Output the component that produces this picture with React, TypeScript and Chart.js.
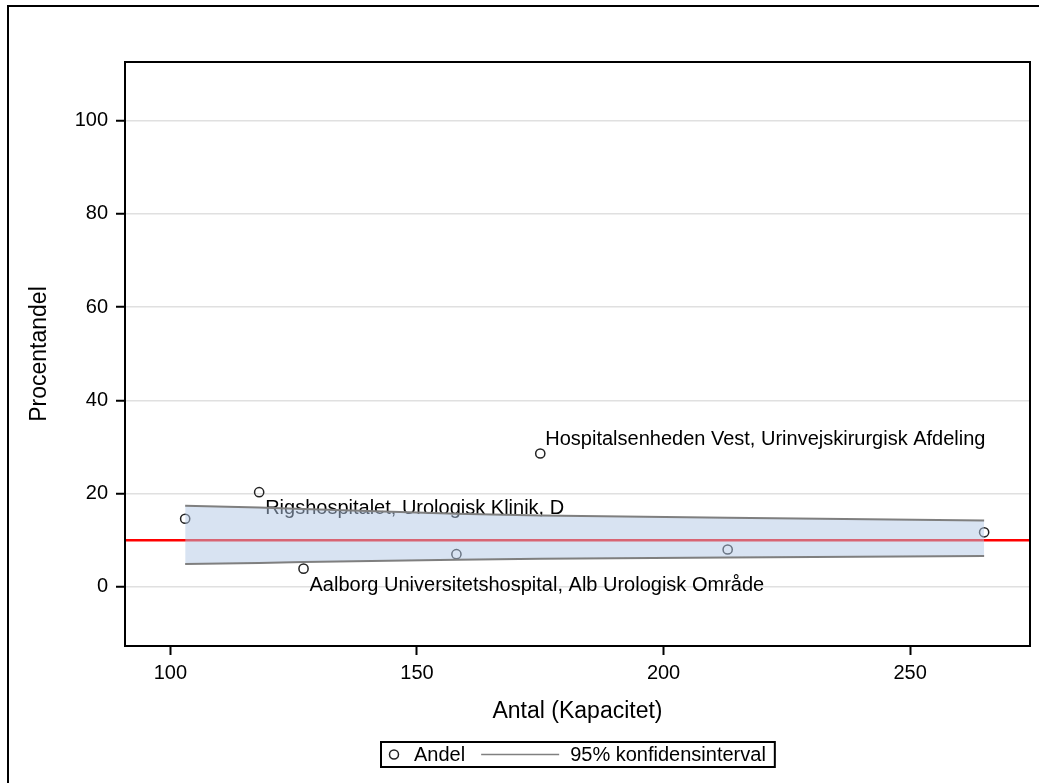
import { useEffect, useRef } from 'react';
import { Chart, registerables } from 'chart.js';

Chart.register(...registerables);

// ---------- data ----------
const xAxisMin = 90.8;
const xAxisMax = 274.3;
const yAxisMin = -12.7;
const yAxisMax = 112.6;
const xTickValues = [100, 150, 200, 250];
const yTickValues = [0, 20, 40, 60, 80, 100];

const antal = [103, 118, 127, 158, 175, 213, 265];
const andel = [14.6, 20.3, 3.9, 7.0, 28.6, 8.0, 11.7];
const hospitalNames = [
  '',
  'Rigshospitalet, Urologisk Klinik, D',
  'Aalborg Universitetshospital, Alb Urologisk Område',
  '',
  'Hospitalsenheden Vest, Urinvejskirurgisk Afdeling',
  '',
  '',
];

const ciAntal = [103, 118, 127, 158, 175, 213, 265];
const ciUpper = [17.4, 17.0, 16.7, 15.7, 15.3, 14.8, 14.2];
const ciLower = [4.9, 5.1, 5.3, 5.8, 6.0, 6.3, 6.6];

const targetValue = 10;

const xTitle = 'Antal (Kapacitet)';
const yTitle = 'Procentandel';
const legendLabels = ['Andel', '95% konfidensinterval'];

// ---------- styling ----------
const FONT = "'Liberation Sans', Arial, sans-serif";
const W = 1039;
const H = 783;

const decorPlugin = {
  id: 'decor',
  beforeDatasetsDraw(chart: any) {
    const { ctx, scales } = chart;
    const xs = scales.x;
    const ys = scales.y;
    ctx.save();
    ctx.font = `20px ${FONT}`;
    ctx.fillStyle = '#000';
    ctx.textAlign = 'left';
    ctx.textBaseline = 'alphabetic';
    for (let i = 0; i < antal.length; i++) {
      const name = hospitalNames[i];
      if (!name) continue;
      const px = xs.getPixelForValue(antal[i]);
      const py = ys.getPixelForValue(andel[i]);
      // label above-right for points far above the band, below-right otherwise
      if (andel[i] > ciUpper[i] + 8) {
        ctx.fillText(name, px + 5, py - 9);
      } else {
        ctx.fillText(name, px + 6, py + 22);
      }
    }
    ctx.restore();
  },
  afterDraw(chart: any) {
    const { ctx, chartArea: a } = chart;
    ctx.save();
    // plot frame
    ctx.strokeStyle = '#000';
    ctx.lineWidth = 2;
    ctx.strokeRect(a.left, a.top, a.right - a.left, a.bottom - a.top);
    // outer frame
    ctx.beginPath();
    ctx.moveTo(8, H);
    ctx.lineTo(8, 6);
    ctx.lineTo(W, 6);
    ctx.stroke();

    // legend
    ctx.font = `20px ${FONT}`;
    const w1 = ctx.measureText(legendLabels[0]).width;
    const w2 = ctx.measureText(legendLabels[1]).width;
    const total = 33 + w1 + 16 + 78 + 11 + w2 + 9;
    const cx = (a.left + a.right) / 2;
    const bx = Math.round(cx - total / 2);
    const by = 742;
    const bh = 25;
    const cy = by + bh / 2;
    ctx.lineWidth = 2;
    ctx.strokeStyle = '#000';
    ctx.strokeRect(bx, by, total, bh);
    // marker
    ctx.lineWidth = 1.5;
    ctx.strokeStyle = '#222';
    ctx.beginPath();
    ctx.arc(bx + 13, cy, 4.5, 0, Math.PI * 2);
    ctx.stroke();
    ctx.fillStyle = '#000';
    ctx.textBaseline = 'middle';
    ctx.textAlign = 'left';
    ctx.fillText(legendLabels[0], bx + 33, cy + 1);
    // line
    const lx = bx + 33 + w1 + 16;
    ctx.strokeStyle = '#808080';
    ctx.lineWidth = 1.5;
    ctx.beginPath();
    ctx.moveTo(lx, cy);
    ctx.lineTo(lx + 78, cy);
    ctx.stroke();
    ctx.fillText(legendLabels[1], lx + 78 + 11, cy + 1);
    ctx.restore();
  },
};

export default function App() {
  const ref = useRef<HTMLCanvasElement | null>(null);

  useEffect(() => {
    if (!ref.current) return;
    Chart.defaults.font.family = FONT;
    const chart = new Chart(ref.current, {
      type: 'scatter',
      data: {
        datasets: [
          {
            label: legendLabels[0],
            data: antal.map((x, i) => ({ x, y: andel[i] })),
            pointStyle: 'circle',
            pointRadius: 4.6,
            pointBorderWidth: 1.5,
            pointBorderColor: '#222',
            pointBackgroundColor: 'rgba(0,0,0,0)',
            order: 3,
          },
          {
            label: 'target',
            data: [
              { x: xAxisMin, y: targetValue },
              { x: xAxisMax, y: targetValue },
            ],
            showLine: true,
            borderColor: '#ff0000',
            borderWidth: 2.5,
            pointRadius: 0,
            order: 2,
          },
          {
            label: legendLabels[1],
            data: ciAntal.map((x, i) => ({ x, y: ciUpper[i] })),
            showLine: true,
            borderColor: '#7f7f7f',
            borderWidth: 2,
            pointRadius: 0,
            fill: '+1',
            backgroundColor: 'rgba(178,200,230,0.5)',
            order: 1,
          },
          {
            label: 'lower',
            data: ciAntal.map((x, i) => ({ x, y: ciLower[i] })),
            showLine: true,
            borderColor: '#7f7f7f',
            borderWidth: 2,
            pointRadius: 0,
            fill: false,
            order: 0,
          },
        ],
      },
      options: {
        responsive: false,
        animation: false,
        devicePixelRatio: 1,
        layout: { padding: { left: 0, top: 62, right: 9, bottom: 0 } },
        plugins: {
          legend: { display: false },
          tooltip: { enabled: false },
        },
        scales: {
          x: {
            type: 'linear',
            min: xAxisMin,
            max: xAxisMax,
            afterBuildTicks: (s: any) => {
              s.ticks = xTickValues.map((v) => ({ value: v }));
            },
            afterFit: (s: any) => {
              s.height = 137;
            },
            ticks: {
              includeBounds: false,
              color: '#000',
              font: { size: 20, family: FONT },
              padding: 6,
              maxRotation: 0,
              callback: (v: any) => String(v),
            },
            grid: {
              drawOnChartArea: false,
              tickLength: 9,
              tickColor: '#000',
              tickWidth: 2,
            },
            border: { display: true, color: '#000', width: 2 },
            title: {
              display: true,
              text: xTitle,
              color: '#000',
              font: { size: 23, family: FONT },
              padding: { top: 0, bottom: 58 },
            },
          },
          y: {
            type: 'linear',
            min: yAxisMin,
            max: yAxisMax,
            afterBuildTicks: (s: any) => {
              s.ticks = yTickValues.map((v) => ({ value: v }));
            },
            afterFit: (s: any) => {
              s.width = 125;
            },
            ticks: {
              includeBounds: false,
              color: '#000',
              font: { size: 20, family: FONT },
              padding: 8,
              callback: (v: any) => String(v),
            },
            grid: {
              color: '#e0e0e0',
              lineWidth: 1.5,
              tickLength: 9,
              tickColor: '#000',
              tickWidth: 2,
            },
            border: { display: true, color: '#000', width: 2 },
            title: {
              display: true,
              text: yTitle,
              color: '#000',
              font: { size: 23, family: FONT },
              padding: { top: 26, bottom: 0 },
            },
          },
        },
      },
      plugins: [decorPlugin],
    } as any);
    return () => chart.destroy();
  }, []);

  return (
    <div style={{ position: 'fixed', left: 0, top: 0, width: W, height: H, background: '#fff' }}>
      <canvas ref={ref} width={W} height={H} style={{ display: 'block' }} />
    </div>
  );
}
